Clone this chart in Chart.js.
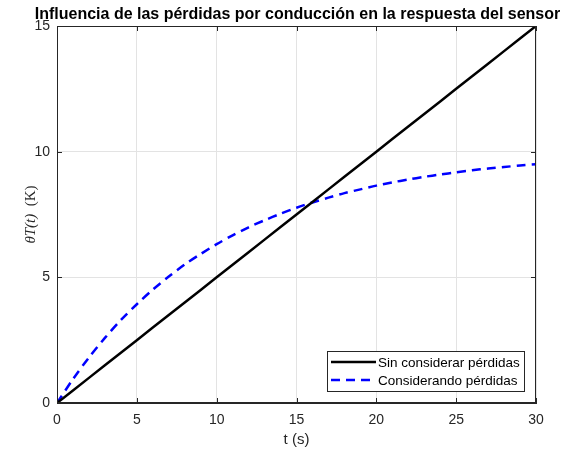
<!DOCTYPE html>
<html>
<head>
<meta charset="utf-8">
<script src="https://cdn.jsdelivr.net/npm/chart.js@4"></script>
<style>
  html, body { margin: 0; padding: 0; background: #fff; }
  #wrap { width: 561px; height: 453px; }
</style>
</head>
<body>
<div id="wrap"><canvas id="c" width="561" height="453"></canvas></div>
<script>
// Time samples (s)
const tiempo = [0, 1, 2, 3, 4, 5, 6, 7, 8, 9, 10, 11, 12, 13, 14, 15, 16, 17, 18, 19, 20,
                21, 22, 23, 24, 25, 26, 27, 28, 29, 30];
// Sensor response without conduction losses (K)
const sinPerdidas = [0, 0.5, 1, 1.5, 2, 2.5, 3, 3.5, 4, 4.5, 5, 5.5, 6, 6.5, 7, 7.5, 8, 8.5, 9, 9.5, 10,
                     10.5, 11, 11.5, 12, 12.5, 13, 13.5, 14, 14.5, 15];
// Sensor response with conduction losses (K)
const conPerdidas = [0, 0.95, 1.81, 2.59, 3.30, 3.93, 4.51, 5.03, 5.51, 5.93, 6.32, 6.67, 6.99, 7.27, 7.53,
                     7.77, 7.98, 8.17, 8.35, 8.50, 8.65, 8.78, 8.89, 9.00, 9.09, 9.18, 9.26, 9.33, 9.39, 9.45, 9.50];

const xTicks = [0, 5, 10, 15, 20, 25, 30];
const yTicks = [0, 5, 10, 15];

const titulo = 'Influencia de las pérdidas por conducción en la respuesta del sensor';
const etiquetas = ['Sin considerar pérdidas', 'Considerando pérdidas'];

const AXIS = '#262626';
const SANS = "'Liberation Sans', Arial, sans-serif";

const toXY = ys => tiempo.map((t, i) => ({ x: t, y: ys[i] }));

// Frame, inward ticks, title, y label and legend in MATLAB style
const matlabStyle = {
  id: 'matlabStyle',
  afterDraw(chart) {
    const { ctx, chartArea: a, scales } = chart;
    ctx.save();
    // box
    ctx.strokeStyle = AXIS;
    ctx.lineWidth = 1;
    ctx.strokeRect(a.left + 0.5, a.top + 0.5, a.right - a.left - 1, a.bottom - a.top - 1);
    // inward ticks
    const L = 5;
    ctx.beginPath();
    xTicks.forEach(v => {
      const x = Math.round(scales.x.getPixelForValue(v)) + 0.5;
      ctx.moveTo(x, a.bottom); ctx.lineTo(x, a.bottom - L);
      ctx.moveTo(x, a.top); ctx.lineTo(x, a.top + L);
    });
    yTicks.forEach(v => {
      const y = Math.round(scales.y.getPixelForValue(v)) + 0.5;
      ctx.moveTo(a.left, y); ctx.lineTo(a.left + L, y);
      ctx.moveTo(a.right, y); ctx.lineTo(a.right - L, y);
    });
    ctx.stroke();

    // title
    ctx.fillStyle = '#000';
    ctx.font = 'bold 16px ' + SANS;
    ctx.textAlign = 'center';
    ctx.textBaseline = 'alphabetic';
    ctx.fillText(titulo, (a.left + a.right) / 2 + 1, 19);

    // y label: italic math part + upright unit
    ctx.save();
    ctx.translate(35, (a.top + a.bottom) / 2);
    ctx.rotate(-Math.PI / 2);
    ctx.fillStyle = AXIS;
    const f1 = "italic 15px 'Liberation Serif', 'DejaVu Serif', serif";
    const f2 = "15px 'Liberation Serif', 'DejaVu Serif', serif";
    const p1 = 'θT(t)', p2 = '  (K)';
    ctx.font = f1; const w1 = ctx.measureText(p1).width;
    ctx.font = f2; const w2 = ctx.measureText(p2).width;
    let sx = -(w1 + w2) / 2;
    ctx.textAlign = 'left';
    ctx.font = f1; ctx.fillText(p1, sx, 0);
    ctx.font = f2; ctx.fillText(p2, sx + w1, 0);
    ctx.restore();

    // legend
    const bx = 327, by = 351, bw = 197, bh = 40;
    ctx.fillStyle = '#fff';
    ctx.fillRect(bx, by, bw, bh);
    ctx.strokeStyle = AXIS;
    ctx.lineWidth = 1;
    ctx.strokeRect(bx + 0.5, by + 0.5, bw, bh);
    ctx.font = '13.5px ' + SANS;
    ctx.textAlign = 'left';
    ctx.textBaseline = 'middle';
    chart.data.datasets.forEach((ds, i) => {
      const y = by + 11 + i * 18;
      ctx.beginPath();
      ctx.strokeStyle = ds.borderColor;
      ctx.lineWidth = ds.borderWidth;
      ctx.setLineDash(ds.borderDash || []);
      ctx.moveTo(bx + 4, y); ctx.lineTo(bx + 49, y);
      ctx.stroke();
      ctx.setLineDash([]);
      ctx.fillStyle = '#000';
      ctx.fillText(ds.label, bx + 51, y + 1);
    });
    ctx.restore();
  }
};

new Chart(document.getElementById('c'), {
  type: 'line',
  data: {
    datasets: [
      { label: etiquetas[0], data: toXY(sinPerdidas), borderColor: '#000000', borderWidth: 2.5,
        pointRadius: 0, fill: false, tension: 0 },
      { label: etiquetas[1], data: toXY(conPerdidas), borderColor: '#0000ff', borderWidth: 2.5,
        borderDash: [9, 6], pointRadius: 0, fill: false, tension: 0.3 }
    ]
  },
  options: {
    responsive: false,
    animation: false,
    layout: { padding: { left: 0, top: 26, right: 25, bottom: 0 } },
    plugins: { legend: { display: false }, title: { display: false }, tooltip: { enabled: false } },
    scales: {
      x: {
        type: 'linear', min: 0, max: 30,
        afterBuildTicks: s => { s.ticks = xTicks.map(v => ({ value: v })); },
        afterFit: s => { s.height = 50; },
        grid: { color: '#e3e3e3', drawTicks: false },
        border: { color: AXIS },
        ticks: { color: AXIS, font: { family: SANS, size: 14 }, padding: 9, maxRotation: 0 },
        title: { display: true, text: 't (s)', color: AXIS, font: { family: SANS, size: 15 }, padding: { top: 3 } }
      },
      y: {
        type: 'linear', min: 0, max: 15,
        afterBuildTicks: s => { s.ticks = yTicks.map(v => ({ value: v })); },
        afterFit: s => { s.width = 57; },
        grid: { color: '#e3e3e3', drawTicks: false },
        border: { color: AXIS },
        ticks: { color: AXIS, font: { family: SANS, size: 14 }, padding: 7 }
      }
    }
  },
  plugins: [matlabStyle]
});
</script>
</body>
</html>
